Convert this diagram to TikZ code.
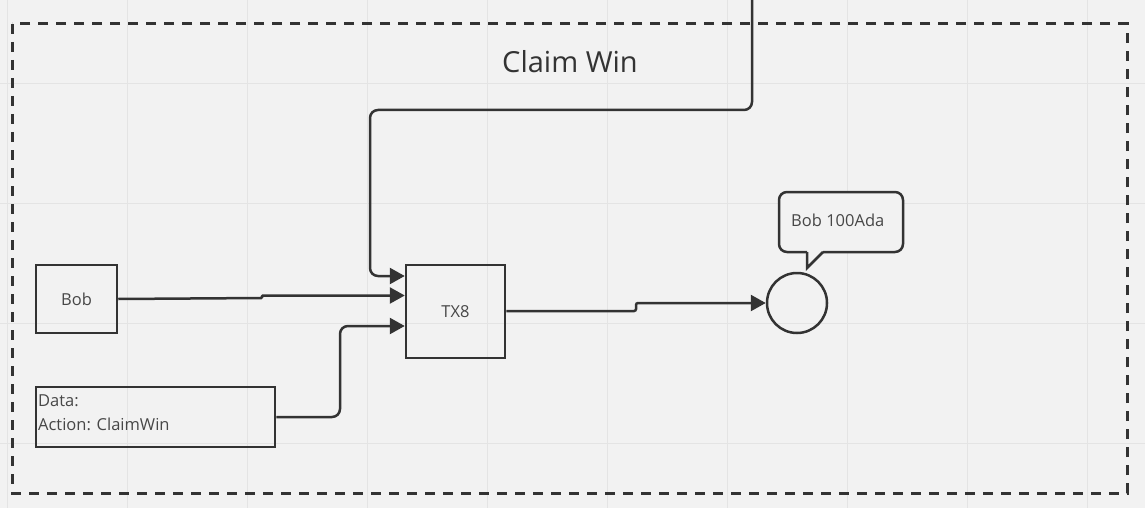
\documentclass[tikz,border=0pt]{standalone}
\usepackage{fontspec}
\setmainfont{Open Sans}
\usetikzlibrary{arrows.meta}
\definecolor{bg}{HTML}{F2F2F2}
\definecolor{gridc}{HTML}{E4E4E4}
\definecolor{ink}{HTML}{333333}
\tikzset{
  box/.style={draw=ink, line width=2.5pt, inner sep=0pt, font=\fontsize{16.5}{20}\selectfont, text=ink!90},
  conn/.style={draw=ink, line width=2.5pt, rounded corners=8pt, -{Triangle[length=15pt,width=16pt]}},
}
\begin{document}
\begin{tikzpicture}[x=1pt,y=-1pt]
\fill[bg] (0,0) rectangle (1145,508);
\useasboundingbox (0,0) rectangle (1145,508);
% grid
\foreach \gx in {7,127,247,367,487,607,727,847,967,1087} \draw[gridc, line width=1pt] (\gx,0) -- (\gx,508);
\foreach \gy in {84,203,323,443} \draw[gridc, line width=1pt] (0,\gy) -- (1145,\gy);
% frame
\draw[ink, line width=3pt, dash pattern=on 10pt off 8pt] (12,24) rectangle (1127,493);
\node[text=ink, font=\fontsize{29}{34}\selectfont] (title) at (570,62) {Claim Win};
% nodes
\node[box, minimum width=81pt, minimum height=68pt] (bob) at (76.5,299) {Bob};
\node[box, minimum width=239pt, minimum height=60pt] (data) at (155.5,417) {};
\node[anchor=north west, inner sep=0pt, align=left, text=ink!90, font=\fontsize{16.5}{24}\selectfont] (datatxt) at (38,395) {Data:\\Action: ClaimWin};
\node[box, minimum width=99pt, minimum height=93pt] (tx) at (455.5,311.5) {TX8};
\node[draw=ink, line width=2.5pt, circle, minimum size=60pt, inner sep=0pt] (out) at (797,303) {};
% callout
\draw[ink, line width=2.5pt, fill=bg, rounded corners=8pt] (807,252) -- (779,252) -- (779,192) -- (903,192) -- (903,252) -- (823,252);
\draw[ink, line width=2.5pt, line join=miter] (823,252) -- (807,268) -- (807,252);
\node[anchor=west, inner sep=0pt, text=ink!90, font=\fontsize{16.5}{20}\selectfont] (calltxt) at (791,220) {Bob 100Ada};
% connectors
\coordinate (topin) at (752,0);
\draw[conn] (topin) -- (752,110) -- (370,110) -- (370,276) -- (tx.west |- 0,276);
\draw[conn, rounded corners=1pt] (bob.east) -- (262,298) -- (262,295.5) -- (tx.west |- 0,295.5);
\draw[conn] (data.east) -- (340,417) -- (340,326) -- (tx.west |- 0,326);
\draw[conn, rounded corners=2pt] (tx.east |- 0,311) -- (636,311) -- (636,303) -- (out.west);
\end{tikzpicture}
\end{document}
